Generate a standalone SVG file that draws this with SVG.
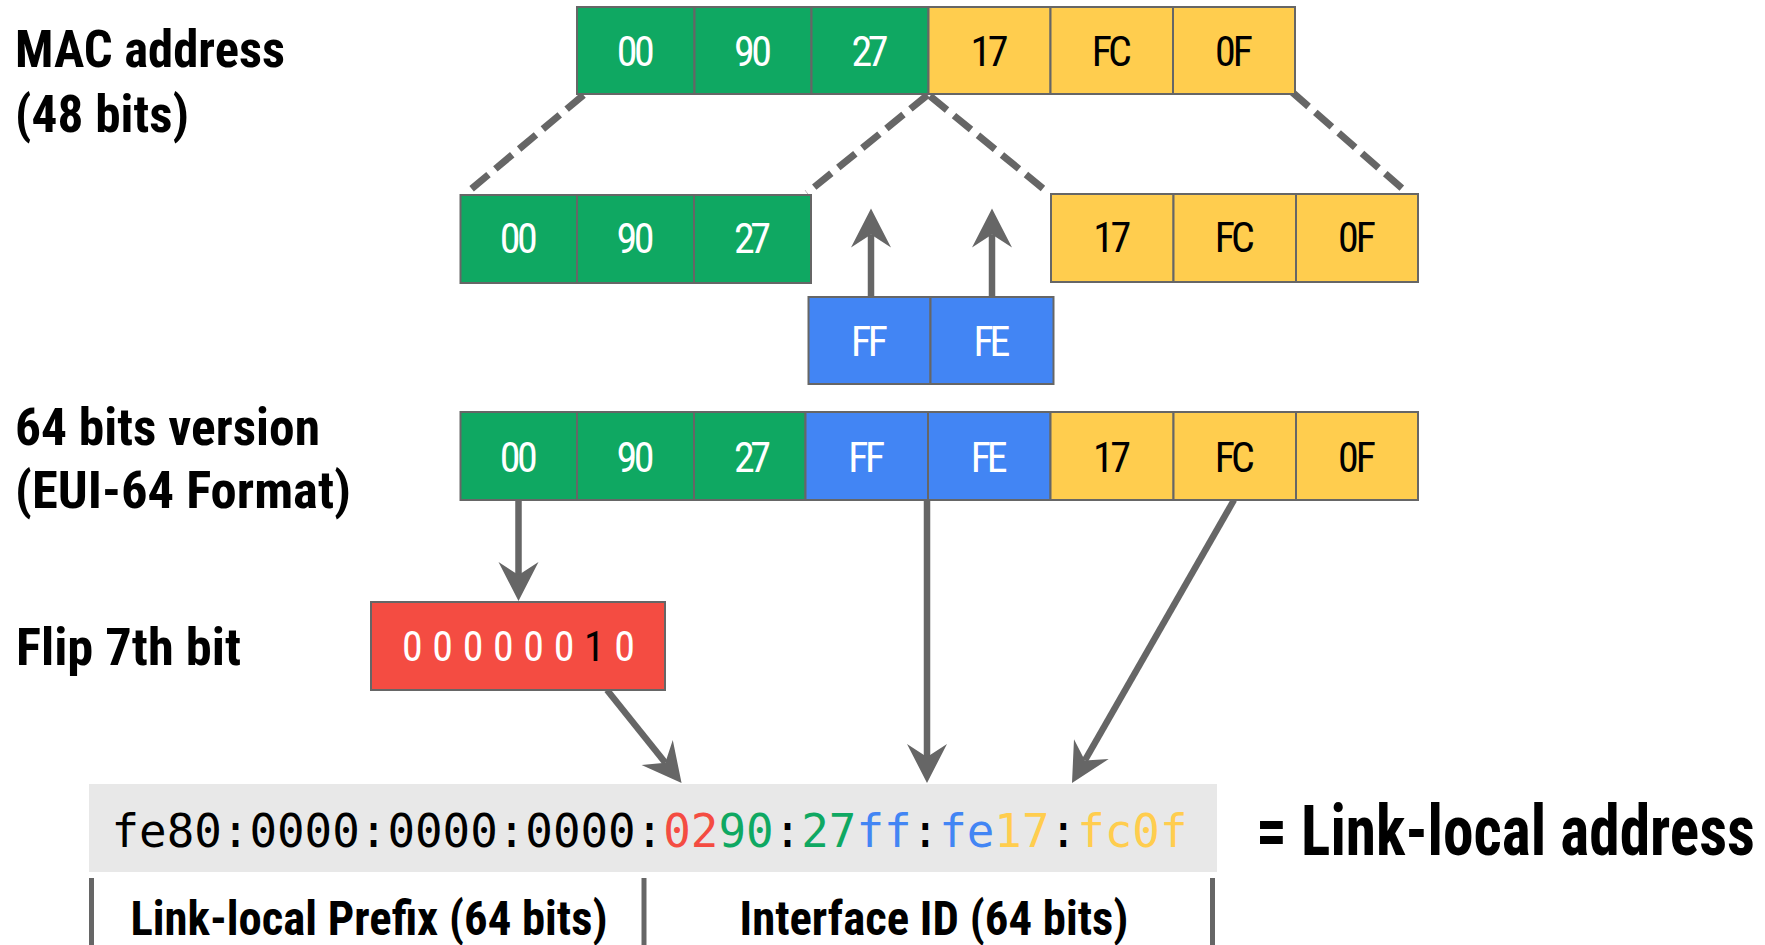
<svg xmlns="http://www.w3.org/2000/svg" width="1765" height="945" viewBox="0 0 1765 945">
  <style>
    .cell { stroke: #666666; stroke-width: 2; }
    .green { fill: #0fa862; }
    .yellow { fill: #ffcd4e; }
    .blue { fill: #4285f4; }
    .red { fill: #f44c42; }
    .ct { font-family: "Roboto Condensed", "Liberation Sans Narrow", Roboto, sans-serif; font-size: 42px; text-anchor: middle; }
    .w { fill: #ffffff; }
    .k { fill: #000000; }
    .lbl { font-family: "Roboto Condensed", "Liberation Sans Narrow", Roboto, sans-serif; font-weight: 700; font-size: 52px; fill: #000000; }
    .dash { fill: none; stroke: #666666; stroke-width: 7; stroke-dasharray: 22 9; }
    .arr { fill: none; stroke: #666666; stroke-width: 6.5; marker-end: url(#head); }
    .sep { stroke: #666666; stroke-width: 5; }
    .mono { font-family: "DejaVu Sans Mono", "Liberation Mono", monospace; font-size: 46px; }
  </style>
  <defs>
    <!-- stealth arrowhead: the path ends at the notch, tip sits 26px ahead -->
    <marker id="head" markerUnits="userSpaceOnUse" viewBox="-14 -21 42 42" refX="0" refY="0" markerWidth="42" markerHeight="42" orient="auto">
      <path d="M26,0 L-13,-20 L0,0 L-13,20 Z" fill="#666666"/>
    </marker>
  </defs>
  <rect width="1765" height="945" fill="#ffffff"/>

  <!-- row labels -->
  <g id="label-mac">
    <text class="lbl" x="15" y="67" textLength="270" lengthAdjust="spacingAndGlyphs">MAC address</text>
    <text class="lbl" x="15" y="132" textLength="174" lengthAdjust="spacingAndGlyphs">(48 bits)</text>
  </g>
  <g id="label-eui64">
    <text class="lbl" x="15" y="445" textLength="305" lengthAdjust="spacingAndGlyphs">64 bits version</text>
    <text class="lbl" x="15" y="508" textLength="336" lengthAdjust="spacingAndGlyphs">(EUI-64 Format)</text>
  </g>
  <g id="label-flip">
    <text class="lbl" x="16" y="665" textLength="225" lengthAdjust="spacingAndGlyphs">Flip 7th bit</text>
  </g>

  <!-- connectors -->
  <g id="connectors">
    <line class="dash" x1="583.5" y1="95" x2="466" y2="193.5"/>
    <line class="dash" x1="927.5" y1="95" x2="807" y2="193"/>
    <line class="dash" x1="930" y1="96" x2="1046" y2="191"/>
    <line class="dash" x1="1292" y1="92" x2="1405" y2="191"/>
    <line class="arr" x1="871" y1="297" x2="871" y2="234.5"/>
    <line class="arr" x1="992" y1="297" x2="992" y2="234.5"/>
    <line class="arr" x1="518.5" y1="500" x2="518.5" y2="575"/>
    <line class="arr" x1="607" y1="690" x2="665.3" y2="762.7"/>
    <line class="arr" x1="927" y1="500" x2="927" y2="757"/>
    <line class="arr" x1="1234" y1="500" x2="1084.9" y2="760.4"/>
  </g>

  <!-- MAC address, 48 bits -->
  <g id="mac-48">
    <rect class="cell green" x="577" y="7" width="117.5" height="87"/>
    <rect class="cell green" x="694.5" y="7" width="117" height="87"/>
    <rect class="cell green" x="811.5" y="7" width="117" height="87"/>
    <rect class="cell yellow" x="928.5" y="7" width="122" height="87"/>
    <rect class="cell yellow" x="1050.5" y="7" width="122.5" height="87"/>
    <rect class="cell yellow" x="1173" y="7" width="122" height="87"/>
    <text class="ct w" x="635.7" y="66" textLength="38">00</text>
    <text class="ct w" x="753" y="66" textLength="38">90</text>
    <text class="ct w" x="870" y="66" textLength="37">27</text>
    <text class="ct k" x="989.5" y="66" textLength="38">17</text>
    <text class="ct k" x="1111.7" y="66" textLength="40">FC</text>
    <text class="ct k" x="1234" y="66" textLength="38">0F</text>
  </g>

  <!-- OUI half -->
  <g id="oui">
    <rect class="cell green" x="460.5" y="195" width="116.5" height="88"/>
    <rect class="cell green" x="577" y="195" width="117" height="88"/>
    <rect class="cell green" x="694" y="195" width="117" height="88"/>
    <text class="ct w" x="518.7" y="253" textLength="38">00</text>
    <text class="ct w" x="635.5" y="253" textLength="38">90</text>
    <text class="ct w" x="752.5" y="253" textLength="37">27</text>
  </g>

  <!-- NIC half -->
  <g id="nic">
    <rect class="cell yellow" x="1051" y="194" width="122.5" height="88"/>
    <rect class="cell yellow" x="1173.5" y="194" width="122.5" height="88"/>
    <rect class="cell yellow" x="1296" y="194" width="122" height="88"/>
    <text class="ct k" x="1112.2" y="252" textLength="38">17</text>
    <text class="ct k" x="1234.7" y="252" textLength="40">FC</text>
    <text class="ct k" x="1357" y="252" textLength="38">0F</text>
  </g>

  <!-- inserted FFFE -->
  <g id="fffe">
    <rect class="cell blue" x="808.5" y="297" width="122" height="87"/>
    <rect class="cell blue" x="930.5" y="297" width="123" height="87"/>
    <text class="ct w" x="869.5" y="355.5" textLength="37">FF</text>
    <text class="ct w" x="992" y="355.5" textLength="37">FE</text>
  </g>

  <!-- 64 bit EUI-64 identifier -->
  <g id="eui-64">
    <rect class="cell green" x="460.5" y="412" width="116.5" height="88"/>
    <rect class="cell green" x="577" y="412" width="117" height="88"/>
    <rect class="cell green" x="694" y="412" width="111.5" height="88"/>
    <rect class="cell blue" x="805.5" y="412" width="122.5" height="88"/>
    <rect class="cell blue" x="928" y="412" width="122.5" height="88"/>
    <rect class="cell yellow" x="1050.5" y="412" width="123" height="88"/>
    <rect class="cell yellow" x="1173.5" y="412" width="122.5" height="88"/>
    <rect class="cell yellow" x="1296" y="412" width="122" height="88"/>
    <text class="ct w" x="518.7" y="471.5" textLength="38">00</text>
    <text class="ct w" x="635.5" y="471.5" textLength="38">90</text>
    <text class="ct w" x="752.5" y="471.5" textLength="37">27</text>
    <text class="ct w" x="866.7" y="471.5" textLength="37">FF</text>
    <text class="ct w" x="989.2" y="471.5" textLength="37">FE</text>
    <text class="ct k" x="1112" y="471.5" textLength="38">17</text>
    <text class="ct k" x="1234.7" y="471.5" textLength="40">FC</text>
    <text class="ct k" x="1357" y="471.5" textLength="38">0F</text>
  </g>

  <!-- first byte with universal/local bit flipped -->
  <g id="flip-byte">
    <rect class="cell red" x="371" y="602" width="294" height="88"/>
    <text class="ct" x="518.5" y="661" textLength="233" lengthAdjust="spacingAndGlyphs"><tspan class="w">0 0 0 0 0 0 </tspan><tspan class="k">1</tspan><tspan class="w"> 0</tspan></text>
  </g>

  <!-- resulting IPv6 link-local address -->
  <g id="link-local">
    <rect x="89" y="784" width="1128" height="88" fill="#e8e8e8"/>
    <text class="mono" x="111.5" y="847" textLength="1076" lengthAdjust="spacingAndGlyphs"><tspan fill="#000000">fe80:0000:0000:0000:</tspan><tspan fill="#f44c42">02</tspan><tspan fill="#0fa862">90</tspan><tspan fill="#000000">:</tspan><tspan fill="#0fa862">27</tspan><tspan fill="#4285f4">ff</tspan><tspan fill="#000000">:</tspan><tspan fill="#4285f4">fe</tspan><tspan fill="#ffcd4e">17</tspan><tspan fill="#000000">:</tspan><tspan fill="#ffcd4e">fc0f</tspan></text>
  </g>
  <g id="label-result">
    <text class="lbl" x="1256" y="855" style="font-size:70px" textLength="499" lengthAdjust="spacingAndGlyphs">= Link-local address</text>
  </g>

  <!-- prefix / interface id split -->
  <g id="split">
    <line class="sep" x1="91.5" y1="878" x2="91.5" y2="945"/>
    <line class="sep" x1="644" y1="878" x2="644" y2="945"/>
    <line class="sep" x1="1212.5" y1="878" x2="1212.5" y2="945"/>
    <text class="lbl" x="130.5" y="935" style="font-size:49px" textLength="477" lengthAdjust="spacingAndGlyphs">Link-local Prefix (64 bits)</text>
    <text class="lbl" x="739.5" y="935" style="font-size:49px" textLength="389" lengthAdjust="spacingAndGlyphs">Interface ID (64 bits)</text>
  </g>
</svg>
